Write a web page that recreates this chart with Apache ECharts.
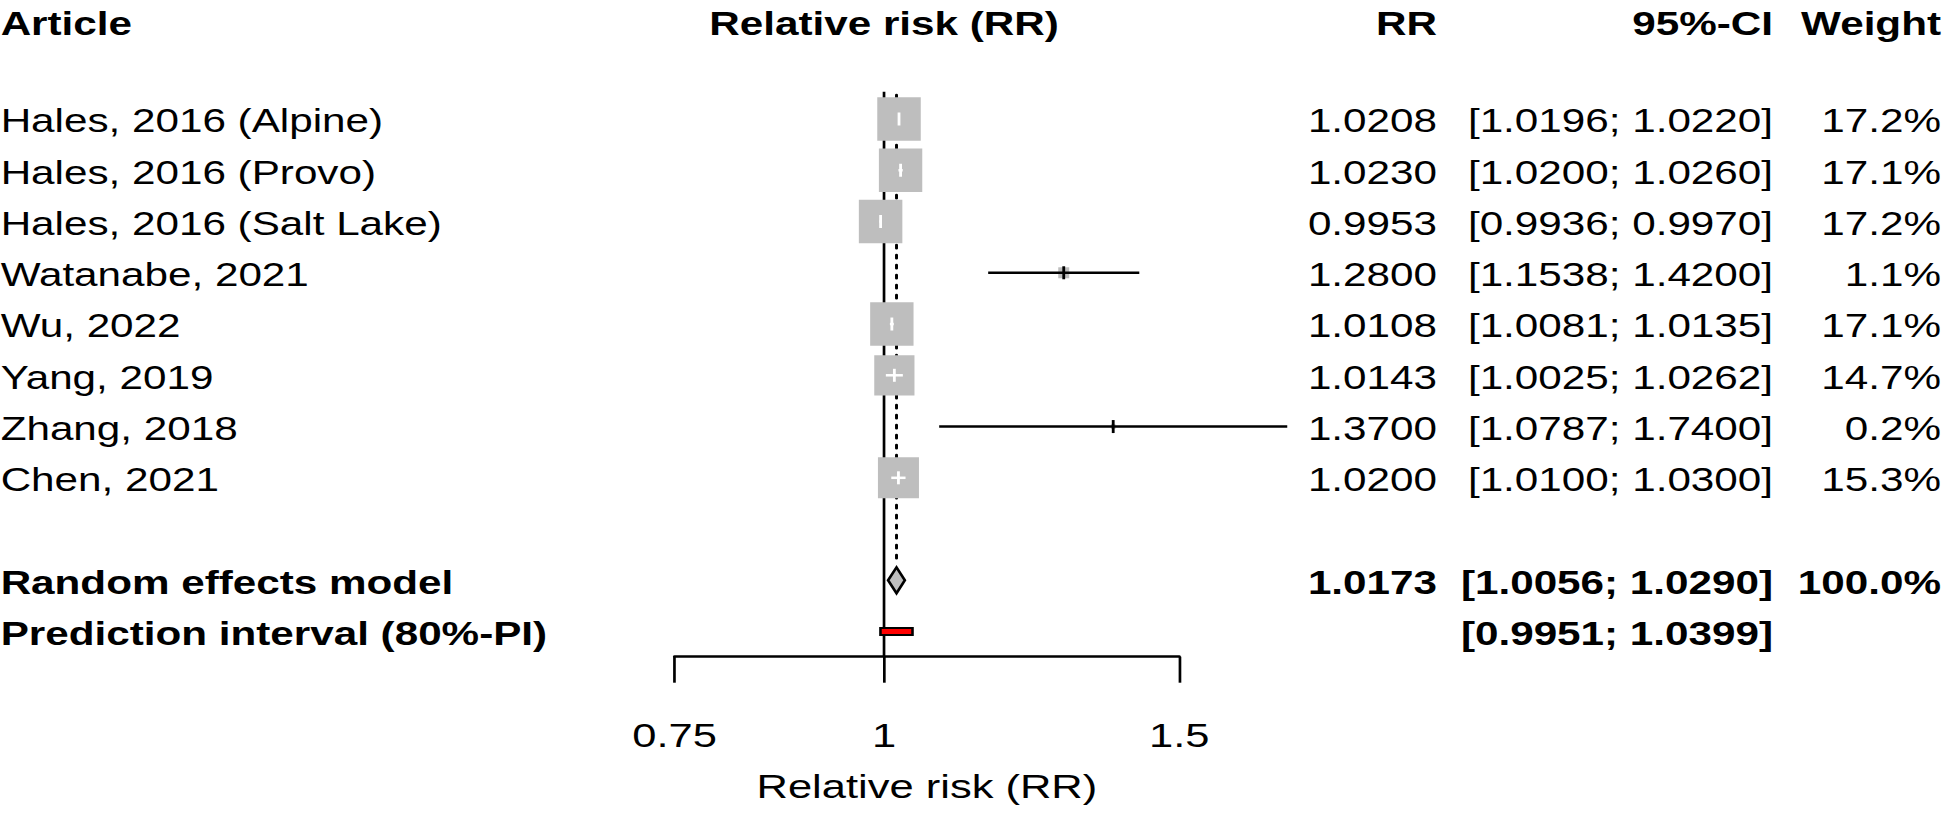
<!DOCTYPE html>
<html><head><meta charset="utf-8">
<script src="https://cdn.jsdelivr.net/npm/echarts@6/dist/echarts.min.js"></script>
<style>
html,body{margin:0;padding:0;background:#fff;overflow:hidden;width:1944px;height:813px}
#chart{width:1519px;height:813px;transform:scaleX(1.2797893);transform-origin:0 0;}
</style>
</head><body><div id="chart"></div>
<script>
// ---- data ----
const studies = ['Hales, 2016 (Alpine)', 'Hales, 2016 (Provo)', 'Hales, 2016 (Salt Lake)', 'Watanabe, 2021', 'Wu, 2022', 'Yang, 2019', 'Zhang, 2018', 'Chen, 2021'];
const rr      = [1.0208, 1.0230, 0.9953, 1.2800, 1.0108, 1.0143, 1.3700, 1.0200];
const lower   = [1.0196, 1.0200, 0.9936, 1.1538, 1.0081, 1.0025, 1.0787, 1.0100];
const upper   = [1.0220, 1.0260, 0.9970, 1.4200, 1.0135, 1.0262, 1.7400, 1.0300];
const weights = [17.2, 17.1, 17.2, 1.1, 17.1, 14.7, 0.2, 15.3];
const pooled = [1.0173, 1.0056, 1.0290];   // RR, lower, upper
const pooledWeight = 100.0;
const predInterval = [0.9951, 1.0399];
const xTicks = [0.75, 1, 1.5];
const xTickLabels = ['0.75', '1', '1.5'];
const headers = ['Article', 'Relative risk (RR)', 'RR', '95%-CI', 'Weight'];
const summaryLabels = ['Random effects model', 'Prediction interval (80%-PI)'];
const axisTitle = 'Relative risk (RR)';

// ---- layout ----
const SX = 1944 / 1519;
const FONT = "'Liberation Sans', Arial, Helvetica, sans-serif";
const FS = 33;
const FS_AXIS = 34;
const L = Math.log;
const ROW_HEADER = -1.9, ROW_POOLED = 9, ROW_PI = 10;
const TXT_DY = 2;
const colX = { left: 0.5, rr: 1437 / SX, ci: 1773 / SX, w: 1941 / SX };
const maxW = Math.max.apply(null, weights);
const fmt4 = v => v.toFixed(4);
const ciTxt = (a, b) => '[' + fmt4(a) + '; ' + fmt4(b) + ']';

function txt(x, y, text, align, bold) {
  return { type: 'text', x: x, y: y + TXT_DY, silent: true,
    style: { text: text, fill: '#000', fontSize: FS, fontFamily: FONT, fontWeight: bold ? 'bold' : 'normal',
      align: align, verticalAlign: 'middle', textAlign: align, textVerticalAlign: 'middle' } };
}

const chart = echarts.init(document.getElementById('chart'), null, { renderer: 'svg' });

const option = {
  animation: false,
  backgroundColor: '#fff',
  grid: { left: 674.6 / SX, right: 1519 - 1179.2 / SX, top: 1.1, bottom: 813 - 656.7, containLabel: false },
  xAxis: {
    type: 'value', min: L(xTicks[0]), max: L(xTicks[2]),
    axisLine: { show: true, onZero: false, lineStyle: { color: '#000', width: 2.5 } },
    axisTick: { show: true, inside: false, length: 26, customValues: xTicks.map(L), lineStyle: { color: '#000', width: 2.1 } },
    axisLabel: { show: true, margin: 62, customValues: xTicks.map(L), color: '#000', fontSize: FS_AXIS, fontFamily: FONT,
      formatter: function (v) { let best = 0; xTicks.forEach((t, i) => { if (Math.abs(L(t) - v) < Math.abs(L(xTicks[best]) - v)) best = i; }); return xTickLabels[best]; } },
    splitLine: { show: false },
    name: axisTitle, nameLocation: 'middle', nameGap: 113,
    nameTextStyle: { color: '#000', fontSize: FS_AXIS, fontFamily: FONT }
  },
  yAxis: { type: 'value', inverse: true, min: -2.3, max: 10.49, show: false },
  series: [
    { // reference lines
      type: 'custom', clip: false, silent: true,
      data: [[L(1), L(pooled[0])]],
      encode: { x: [0, 1] },
      renderItem: function (params, api) {
        const a1 = api.coord([api.value(0), -0.53]), a2 = api.coord([api.value(0), 10.49]);
        const b1 = api.coord([api.value(1), -0.47]), b2 = api.coord([api.value(1), 8.6]);
        return { type: 'group', children: [
          { type: 'line', shape: { x1: a1[0], y1: a1[1], x2: a2[0], y2: a2[1] }, style: { stroke: '#000', lineWidth: 2.1 } },
          { type: 'line', shape: { x1: b1[0], y1: b1[1], x2: b2[0], y2: b2[1] }, style: { stroke: '#000', lineWidth: 2.3, lineDash: [3.5, 6.5], lineCap: 'round' } }
        ] };
      }
    },
    { // studies
      type: 'custom', clip: false, silent: true,
      data: studies.map((s, i) => [L(rr[i]), L(lower[i]), L(upper[i]), i, weights[i]]),
      encode: { x: [0, 1, 2], y: 3 },
      renderItem: function (params, api) {
        const i = api.value(3);
        const c = api.coord([api.value(0), i]);
        const lo = api.coord([api.value(1), i]);
        const hi = api.coord([api.value(2), i]);
        const side = 43.5 * Math.sqrt(api.value(4) / maxW);
        const w = side / SX;
        const inside = lo[0] >= c[0] - w / 2 && hi[0] <= c[0] + w / 2;
        const lc = inside ? '#fff' : '#000';
        return { type: 'group', children: [
          { type: 'rect', shape: { x: c[0] - w / 2, y: c[1] - side / 2, width: w, height: side }, style: { fill: '#bebebe' } },
          { type: 'line', shape: { x1: lo[0], y1: c[1], x2: hi[0], y2: c[1] }, style: { stroke: lc, lineWidth: 2.5 } },
          { type: 'line', shape: { x1: c[0], y1: c[1] - 6.5, x2: c[0], y2: c[1] + 6.5 }, style: { stroke: lc, lineWidth: 2.2 } }
        ] };
      }
    },
    { // pooled diamond + prediction interval
      type: 'custom', clip: false, silent: true,
      data: [[L(pooled[0]), L(pooled[1]), L(pooled[2]), L(predInterval[0]), L(predInterval[1])]],
      encode: { x: [0, 1, 2, 3, 4] },
      renderItem: function (params, api) {
        const c = api.coord([api.value(0), ROW_POOLED]);
        const lo = api.coord([api.value(1), ROW_POOLED]);
        const hi = api.coord([api.value(2), ROW_POOLED]);
        const p1 = api.coord([api.value(3), ROW_PI]);
        const p2 = api.coord([api.value(4), ROW_PI]);
        return { type: 'group', children: [
          { type: 'polygon', shape: { points: [[lo[0], c[1]], [c[0], c[1] - 13], [hi[0], c[1]], [c[0], c[1] + 13]] },
            style: { fill: '#bebebe', stroke: '#000', lineWidth: 2.2, lineJoin: 'miter' } },
          { type: 'rect', shape: { x: p1[0], y: p1[1] - 3.5, width: p2[0] - p1[0], height: 7 },
            style: { fill: '#ff0000', stroke: '#000', lineWidth: 2 } }
        ] };
      }
    },
    { // study text columns
      type: 'custom', clip: false, silent: true,
      data: studies.map((s, i) => [L(1), i]),
      encode: { x: 0, y: 1 },
      renderItem: function (params, api) {
        const i = params.dataIndex;
        const y = api.coord([api.value(0), api.value(1)])[1];
        return { type: 'group', children: [
          txt(colX.left, y, studies[i], 'left', false),
          txt(colX.rr, y, fmt4(rr[i]), 'right', false),
          txt(colX.ci, y, ciTxt(lower[i], upper[i]), 'right', false),
          txt(colX.w, y, weights[i].toFixed(1) + '%', 'right', false)
        ] };
      }
    },
    { // header + summary text
      type: 'custom', clip: false, silent: true,
      data: [[L(1), ROW_HEADER]],
      encode: { x: 0, y: 1 },
      renderItem: function (params, api) {
        const h = api.coord([api.value(0), ROW_HEADER]);
        const yP = api.coord([api.value(0), ROW_POOLED])[1];
        const yI = api.coord([api.value(0), ROW_PI])[1];
        return { type: 'group', children: [
          txt(colX.left, h[1], headers[0], 'left', true),
          txt(h[0], h[1], headers[1], 'center', true),
          txt(colX.rr, h[1], headers[2], 'right', true),
          txt(colX.ci, h[1], headers[3], 'right', true),
          txt(colX.w, h[1], headers[4], 'right', true),
          txt(colX.left, yP, summaryLabels[0], 'left', true),
          txt(colX.rr, yP, fmt4(pooled[0]), 'right', true),
          txt(colX.ci, yP, ciTxt(pooled[1], pooled[2]), 'right', true),
          txt(colX.w, yP, pooledWeight.toFixed(1) + '%', 'right', true),
          txt(colX.left, yI, summaryLabels[1], 'left', true),
          txt(colX.ci, yI, ciTxt(predInterval[0], predInterval[1]), 'right', true)
        ] };
      }
    }
  ]
};
chart.setOption(option);
</script>
</body></html>
